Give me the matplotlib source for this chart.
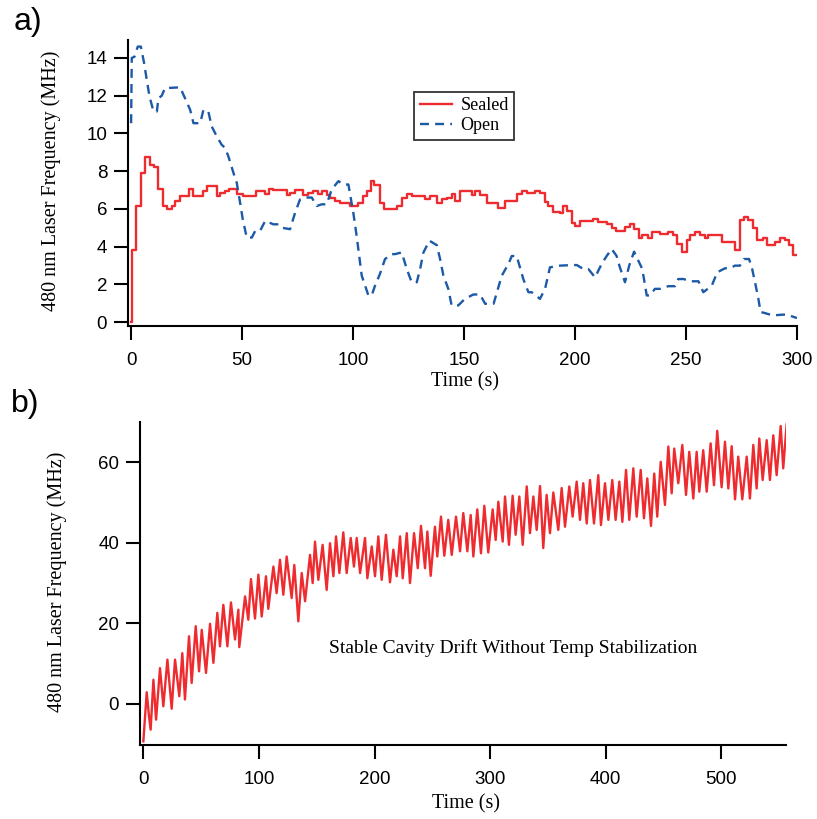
import matplotlib
matplotlib.use("Agg")
import matplotlib.pyplot as plt

# panel a) -- sealed cavity (step trace)
sealed_t = [0, 0.3, 2.3, 4.4, 6.3, 8.6, 10.1, 12.3, 14.3, 16.1, 18.3, 19.8, 22.1, 26.3,
            27.8, 32.3, 34.1, 38.6, 40.1, 42.3, 44.3, 47.9, 50.6, 56.3, 60.4, 61.9, 64.1,
            70.1, 71.6, 73.9, 77.6, 79.9, 82.1, 84.4, 85.9, 88.1, 89.6, 91.9, 94.1, 98.6,
            102.4, 104.3, 106.1, 107.9, 109.4, 112.1, 113.9, 119.7, 121.9, 124.2, 126.4,
            132.4, 134.7, 137.7, 139.9, 142.2, 144.4, 145.9, 148.2, 153.4, 154.9, 157.2,
            160.2, 165.4, 168.5, 174.0, 176.0, 178.2, 182.0, 184.2, 186.5, 188.0, 190.2,
            193.2, 194.4, 196.2, 198.5, 200.0, 202.3, 208.3, 210.5, 214.3, 216.5, 218.5,
            222.5, 224.8, 226.6, 228.6, 230.1, 233.0, 234.5, 238.3, 242.0, 244.3, 246.1,
            248.0, 250.3, 251.8, 254.0, 256.3, 258.5, 260.0, 266.0, 272.0, 274.3, 276.1,
            278.0, 280.3, 282.1, 284.5, 286.3, 290.1, 292.3, 294.6, 296.5, 298.3, 300.0]
sealed_f = [0, 3.83, 6.15, 7.9, 8.73, 8.3, 8.2, 7.07, 6.15, 5.97, 6.15, 6.4, 6.68, 7.07,
            6.68, 6.94, 7.2, 6.68, 6.85, 6.94, 7.07, 6.77, 6.68, 6.94, 6.77, 7.07, 6.98,
            6.71, 6.85, 6.98, 6.71, 6.85, 6.94, 6.77, 6.94, 6.71, 6.6, 6.4, 6.29, 6.15,
            6.33, 6.68, 6.94, 7.47, 7.29, 6.33, 5.97, 6.15, 6.6, 6.8, 6.68,
            6.5, 6.68, 6.33, 6.5, 6.6, 6.8, 6.4, 6.94, 6.73, 6.94, 6.73,
            6.29, 6.06, 6.4, 6.77, 6.94, 6.82, 6.94, 6.82, 6.36, 6.15, 5.83,
            5.76, 6.15, 5.89, 5.27, 5.1, 5.36, 5.45, 5.31, 5.18, 5.0, 4.8,
            5.03, 5.22, 4.92, 4.48, 4.62, 4.48, 4.78, 4.66, 4.78, 4.6, 4.13,
            3.69, 4.36, 4.6, 4.78, 4.6, 4.48, 4.62, 4.25, 3.83, 5.41, 5.57,
            5.41, 5.0, 4.36, 4.48, 4.08, 4.25, 4.48, 4.36, 4.08, 3.55, 3.55]

# panel a) -- open cavity
open_t = [0, 0.3, 1.5, 3.0, 4.4, 5.9, 7.1, 8.3, 10.1, 11.6, 12.3, 13.8, 15.3, 22.1, 23.6,
          26.6, 28.1, 31.1, 32.6, 34.8, 36.3, 38.6, 40.8, 42.3, 43.8, 46.1, 47.6, 49.1,
          50.3, 52.1, 54.4, 55.9, 58.1, 60.4, 64.1, 66.4, 67.9, 71.6, 73.9, 76.1, 78.4,
          81.4, 83.6, 85.9, 88.1, 90.4, 93.4, 95.6, 97.9, 100.1, 101.6, 103.9, 106.9,
          108.4, 109.9, 112.1, 114.4, 117.4, 118.9, 121.9, 124.2, 126.4, 128.7, 130.2,
          131.7, 134.4, 137.7, 139.2, 140.7, 142.9, 144.4, 147.4, 150.4, 154.2, 157.2,
          159.5, 163.3, 164.8, 167.0, 170.0, 171.5, 173.7, 176.7, 179.0, 180.5, 184.2,
          186.5, 188.7, 193.2, 198.5, 200.8, 203.8, 206.0, 209.0, 212.0, 214.3, 216.5,
          218.7, 220.2, 222.5, 224.4, 226.6, 230.3, 232.3, 233.8, 236.0, 238.3, 242.0,
          245.0, 246.5, 248.8, 252.6, 255.6, 257.8, 261.6, 264.1, 267.6, 269.8, 272.0,
          274.3, 276.1, 278.4, 279.8, 281.4, 282.6, 283.6, 285.1, 289.1, 293.3, 295.5,
          300.0]
open_f = [10.54, 14.0, 14.06, 14.6, 14.6, 13.7, 12.8, 11.95, 11.16, 11.16, 11.86, 12.0,
          12.4, 12.44, 12.04, 11.25, 10.54, 10.54, 11.25, 11.16, 10.37, 9.84, 9.4, 9.23,
          8.79, 7.91, 7.38, 6.33, 5.45, 4.48, 4.48, 4.83, 4.83, 5.36, 5.18, 5.18, 5.0,
          4.92, 5.8, 6.5, 6.6, 6.6, 6.15, 6.24, 6.24, 7.03, 7.47, 7.29, 7.29, 5.8, 4.57,
          2.46, 1.41, 1.41, 1.93, 2.55, 3.34, 3.6, 3.6, 3.69, 2.81, 2.11, 2.11, 2.81,
          3.69, 4.31, 4.08, 3.34, 2.46, 1.76, 0.88, 0.88, 1.23, 1.46, 1.46,
          0.97, 0.97, 1.58, 2.46, 3.08, 3.5, 3.5, 2.28, 1.58, 1.58, 1.23,
          1.76, 2.9, 2.99, 3.02, 3.02, 2.81, 2.81, 2.37, 3.08, 3.51, 3.87,
          3.51, 2.9, 2.11, 2.99, 3.73, 2.81, 1.41, 1.41, 1.76, 1.76, 1.9,
          1.9, 2.28, 2.28, 2.16, 2.16, 1.58, 1.93, 2.64, 2.85, 2.85, 2.99,
          2.99, 3.34, 3.34, 2.81, 1.93, 1.23, 0.53, 0.49, 0.35, 0.39, 0.39,
          0.21]

# panel b) -- drift trace (peaks / troughs read off the plot)
drift_t = [0.0, 2.9, 4.9, 6.3, 8.7, 11.0, 14.4, 17.3, 20.8, 24.5, 27.4, 31.1, 33.7, 36.0,
           39.5, 41.8, 45.3, 48.2, 50.5, 54.2, 57.7, 60.6, 64.0, 66.3, 69.2, 72.7, 75.8,
           79.3, 82.2, 83.0, 88.0, 90.8, 93.1, 96.6, 99.5, 102.4, 106.1, 108.1, 112.5,
           115.3, 118.2, 121.1, 124.0, 128.3, 130.6, 134.1, 137.0, 139.9, 144.2, 146.5,
           148.5, 151.4, 155.1, 158.6, 161.5, 164.4, 166.7, 169.6, 173.0, 175.9, 179.4,
           182.2, 184.6, 187.5, 191.8, 193.8, 197.6, 200.4, 203.3, 206.2, 209.9, 213.4,
           216.3, 219.2, 222.1, 224.4, 227.9, 230.7, 234.2, 237.4, 240.2, 243.7, 245.7,
           248.6, 252.3, 254.3, 257.5, 260.4, 263.8, 266.8, 270.5, 274.0, 276.8, 280.3,
           283.2, 285.5, 288.9, 292.1, 295.0, 298.4, 302.2, 304.8, 307.1, 310.9, 312.9,
           316.3, 319.5, 322.1, 325.3, 328.2, 331.7, 334.5, 337.4, 340.3, 343.2, 346.0,
           348.9, 351.8, 354.7, 359.0, 361.9, 364.8, 368.5, 371.4, 374.9, 377.8, 380.6,
           383.6, 386.4, 389.9, 393.6, 395.9, 399.4, 402.3, 405.7, 408.6, 411.8, 414.4,
           417.6, 420.4, 423.9, 426.8, 430.3, 433.1, 436.0, 439.2, 442.0, 444.6, 447.6,
           451.3, 454.2, 457.1, 459.3, 462.8, 466.3, 469.5, 472.3, 475.8, 478.7, 481.0,
           484.4, 487.4, 490.8, 493.7, 496.5, 500.3, 503.2, 506.1, 509.0, 511.9, 514.7,
           518.2, 522.0, 524.8, 527.7, 530.6, 532.9, 535.8, 539.3, 542.1, 545.0, 547.9,
           551.4, 553.6, 556.6]
drift_f = [-9.3, 2.9, -3.1, -6.4, 6.0, -3.9, 8.9, -0.6, 11.0, -1.2, 11.0, 1.9, 12.6, 1.1,
           16.8, 5.2, 19.3, 8.1, 18.4, 7.7, 19.9, 10.2, 22.6, 14.3, 24.6, 14.3, 25.2,
           16.0, 23.4, 14.1, 26.7, 20.9, 31.0, 21.2, 32.1, 21.7, 31.7, 23.6, 34.1,
           27.5, 35.8, 27.1, 36.6, 26.3, 34.5, 20.5, 32.5, 25.5, 37.0, 30.0,
           40.3, 30.8, 39.5, 28.3, 39.9, 31.7, 41.6, 32.5, 42.6, 32.5, 41.2,
           34.1, 41.2, 32.5, 41.2, 31.2, 39.1, 31.7, 41.6, 30.8, 42.0, 30.2,
           38.3, 31.7, 41.6, 31.2, 42.4, 30.0, 42.4, 33.7, 44.2, 33.7, 42.8,
           31.8, 44.0, 36.6, 46.5, 36.8, 45.7, 37.0, 46.5, 37.9, 47.4, 37.9,
           46.9, 36.6, 48.3, 37.4, 49.2, 37.6, 48.3, 40.7, 50.2, 40.3, 51.5,
           39.5, 51.7, 42.0, 51.5, 39.5, 54.0, 42.4, 51.5, 43.2, 54.1, 38.7,
           51.9, 42.4, 52.5, 43.2, 53.6, 44.0, 54.0, 46.5, 55.2, 45.7, 54.8,
           44.8, 55.6, 44.8, 56.8, 44.4, 54.8, 45.7, 55.6, 45.7, 55.2, 45.2,
           58.1, 45.7, 58.5, 46.5, 58.1, 46.1, 56.0, 44.2, 57.2, 46.5, 60.1,
           49.4, 63.9, 52.3, 63.4, 54.8, 64.3, 51.9, 62.6, 51.0, 62.6, 52.7,
           63.0, 52.7, 64.7, 54.3, 67.8, 53.8, 65.1, 53.5, 64.0, 50.8, 61.4,
           50.8, 61.4, 51.0, 64.3, 53.5, 65.9, 55.6, 65.5, 55.6, 66.7, 56.8,
           69.0, 58.5, 69.5]

red = '#ee2b2f'
blue = '#1c5aa8'
serif = ['Liberation Serif', 'DejaVu Serif']
sans = ['Liberation Sans', 'DejaVu Sans']

plt.rcParams['font.family'] = sans
plt.rcParams['axes.linewidth'] = 1.5

W, H = 817, 819
fig = plt.figure(figsize=(W / 100, H / 100), dpi=100)


def style(ax):
    for s in ['top', 'right']:
        ax.spines[s].set_visible(False)
    ax.tick_params(direction='out', length=10, width=1.5, labelsize=13.5)
    ax.tick_params(axis='x', pad=9)
    ax.tick_params(axis='y', pad=5)


# top panel
ax1 = fig.add_axes([128 / W, 1 - 326 / H, (797 - 128) / W, (326 - 40) / H])
ax1.plot(sealed_t, sealed_f, color=red, lw=1.7, drawstyle='steps-post', label='Sealed')
ax1.plot(open_t, open_f, color=blue, lw=1.7, ls=(0, (3.8, 2.6)), label='Open')
ax1.set_xlim(-1.4, 300)
ax1.set_ylim(-0.21, 14.95)
ax1.set_xticks([0, 50, 100, 150, 200, 250, 300])
ax1.set_yticks([0, 2, 4, 6, 8, 10, 12, 14])
style(ax1)
ax1.set_xlabel('Time (s)', fontfamily=serif, fontsize=14.5, va='center')
ax1.xaxis.set_label_coords(0.504, -0.196)
ax1.set_ylabel('480 nm Laser Frequency (MHz)', fontfamily=serif, fontsize=14.5, va='center')
ax1.yaxis.set_label_coords(-0.115, 0.507)
leg = ax1.legend(loc='upper left', bbox_to_anchor=(0.428, 0.818), frameon=True, fancybox=False,
                 prop={'family': serif, 'size': 13}, handlelength=1.8, borderpad=0.3,
                 labelspacing=0.15, handletextpad=0.45, borderaxespad=0)
leg.get_frame().set_edgecolor('black')
leg.get_frame().set_linewidth(1.3)

# bottom panel
ax2 = fig.add_axes([140 / W, 1 - 745 / H, (786 - 140) / W, (745 - 422) / H])
ax2.plot(drift_t, drift_f, color=red, lw=1.7)
ax2.set_xlim(-2.9, 556)
ax2.set_ylim(-10.2, 70)
ax2.set_xticks([0, 100, 200, 300, 400, 500])
ax2.set_yticks([0, 20, 40, 60])
style(ax2)
ax2.set_xlabel('Time (s)', fontfamily=serif, fontsize=14.5, va='center')
ax2.xaxis.set_label_coords(0.505, -0.183)
ax2.set_ylabel('480 nm Laser Frequency (MHz)', fontfamily=serif, fontsize=14.5, va='center')
ax2.yaxis.set_label_coords(-0.128, 0.505)
ax2.text(0.577, 0.3, 'Stable Cavity Drift Without Temp Stabilization', transform=ax2.transAxes,
         ha='center', va='center', fontfamily=serif, fontsize=14)

fig.text(14 / W, 1 - 22 / H, 'a)', fontsize=23, va='center', ha='left')
fig.text(11 / W, 1 - 404 / H, 'b)', fontsize=23, va='center', ha='left')

fig.savefig('out.png', dpi=100)
